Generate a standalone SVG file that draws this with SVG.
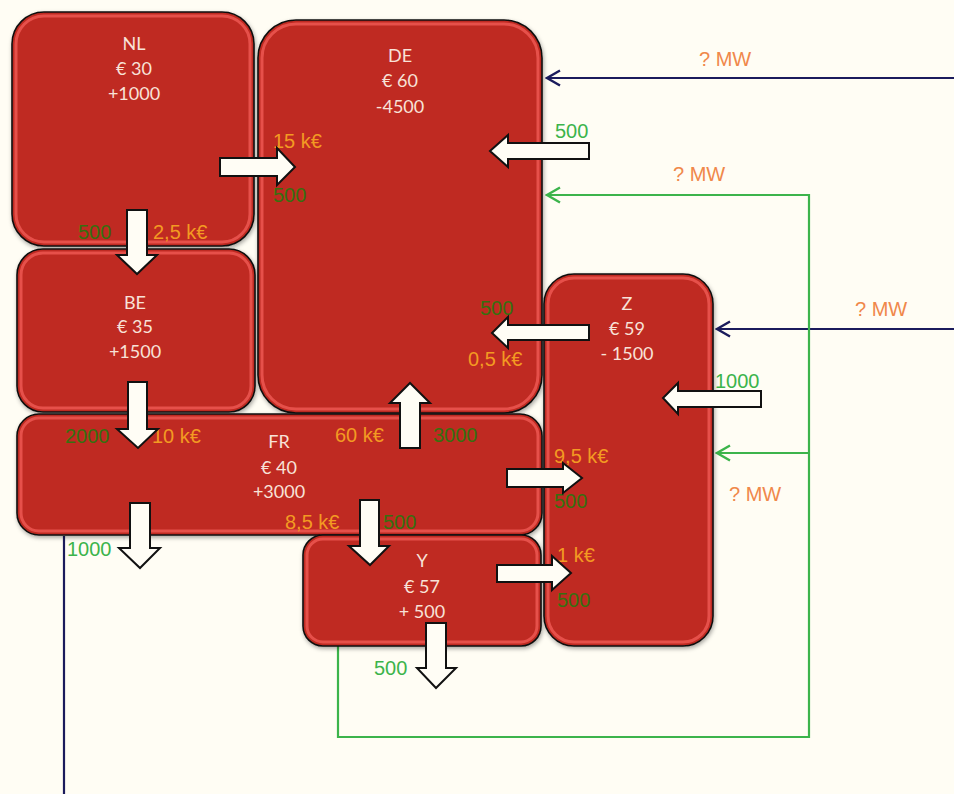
<svg xmlns="http://www.w3.org/2000/svg" width="954" height="794" viewBox="0 0 954 794">
<defs>
<filter id="sh" x="-10%" y="-10%" width="120%" height="120%">
<feDropShadow dx="1" dy="2" stdDeviation="2" flood-color="#000" flood-opacity="0.35"/>
</filter>
<marker id="an" markerWidth="18" markerHeight="18" refX="16" refY="9" orient="auto" markerUnits="userSpaceOnUse">
<path d="M3,1.5 L16,9 L3,16.5" fill="none" stroke="#1b1b5c" stroke-width="2.4"/>
</marker>
<marker id="ag" markerWidth="18" markerHeight="18" refX="16" refY="9" orient="auto" markerUnits="userSpaceOnUse">
<path d="M3,1.5 L16,9 L3,16.5" fill="none" stroke="#3cb44b" stroke-width="2.4"/>
</marker>
</defs>
<style>
.box{fill:#bf2a20;stroke:#111;stroke-width:1.6;filter:url(#sh)}
.hl{fill:none;stroke:#f05a55;stroke-width:3;opacity:0.8}
.nt{font-family:Lato,"Open Sans",sans-serif;font-size:18px;fill:#f8e2d8;text-anchor:middle}
.lb{font-family:"Liberation Sans",Arial,sans-serif;font-size:20px}
.or{fill:#f39a22}
.dg{fill:#36700f}
.lg{fill:#3cb44b}
.mw{fill:#f0884a}
.ar{fill:#fffdf5;stroke:#111;stroke-width:2;stroke-linejoin:miter}
.nv{fill:none;stroke:#1b1b5c;stroke-width:2.2}
.gr{fill:none;stroke:#3cb44b;stroke-width:2.2}
</style>
<rect width="954" height="794" fill="#fffdf4"/>

<g id="connectors">
<path class="nv" d="M954,78 H547" marker-end="url(#an)"/>
<path class="nv" d="M954,329 H717" marker-end="url(#an)"/>
<path class="nv" d="M64,536 V794"/>
<path class="gr" d="M338,646 V737 H809 V195 H547" marker-end="url(#ag)"/>
<path class="gr" d="M809,453 H717" marker-end="url(#ag)"/>
</g>

<g id="NL">
<rect class="box" x="12" y="12" width="242" height="234" rx="32"/>
<rect class="hl" x="16" y="16" width="234" height="226" rx="28"/>
<text class="nt" x="134" y="50">NL</text>
<text class="nt" x="134" y="75">€ 30</text>
<text class="nt" x="134" y="100">+1000</text>
</g>
<g id="DE">
<rect class="box" x="258" y="20" width="284" height="393" rx="38"/>
<rect class="hl" x="262" y="24" width="276" height="385" rx="34"/>
<text class="nt" x="400" y="62">DE</text>
<text class="nt" x="400" y="87">€ 60</text>
<text class="nt" x="400" y="113">-4500</text>
</g>
<g id="BE">
<rect class="box" x="17" y="249" width="238" height="163" rx="26"/>
<rect class="hl" x="21" y="253" width="230" height="155" rx="22"/>
<text class="nt" x="135" y="309">BE</text>
<text class="nt" x="135" y="333">€ 35</text>
<text class="nt" x="135" y="358">+1500</text>
</g>
<g id="FR">
<rect class="box" x="17" y="414" width="525" height="121" rx="22"/>
<rect class="hl" x="21" y="418" width="517" height="113" rx="18"/>
<text class="nt" x="279" y="448">FR</text>
<text class="nt" x="279" y="474">€ 40</text>
<text class="nt" x="279" y="498">+3000</text>
</g>
<g id="Z">
<rect class="box" x="544" y="274" width="169" height="372" rx="30"/>
<rect class="hl" x="548" y="278" width="161" height="364" rx="26"/>
<text class="nt" x="627" y="310">Z</text>
<text class="nt" x="627" y="335">€ 59</text>
<text class="nt" x="627" y="360">- 1500</text>
</g>
<g id="Y">
<rect class="box" x="303" y="535" width="238" height="111" rx="20"/>
<rect class="hl" x="307" y="539" width="230" height="103" rx="16"/>
<text class="nt" x="422" y="567">Y</text>
<text class="nt" x="422" y="593">€ 57</text>
<text class="nt" x="422" y="618">+ 500</text>
</g>

<g id="labels">
<text class="lb mw" x="699" y="66">? MW</text>
<text class="lb mw" x="673" y="181">? MW</text>
<text class="lb mw" x="855" y="316">? MW</text>
<text class="lb mw" x="729" y="501">? MW</text>
<text class="lb dg" x="78" y="239">500</text>
<text class="lb or" x="153" y="239">2,5 k€</text>
<text class="lb or" x="273" y="148">15 k€</text>
<text class="lb dg" x="273" y="202">500</text>
<text class="lb lg" x="555" y="138">500</text>
<text class="lb dg" x="480" y="315">500</text>
<text class="lb or" x="468" y="366">0,5 k€</text>
<text class="lb dg" x="65" y="443">2000</text>
<text class="lb or" x="152" y="443">10 k€</text>
<text class="lb or" x="335" y="442">60 k€</text>
<text class="lb dg" x="433" y="442">3000</text>
<text class="lb or" x="285" y="529">8,5 k€</text>
<text class="lb dg" x="383" y="529">500</text>
<text class="lb lg" x="67" y="556">1000</text>
<text class="lb lg" x="715" y="388">1000</text>
<text class="lb or" x="554" y="463">9,5 k€</text>
<text class="lb dg" x="554" y="508">500</text>
<text class="lb or" x="557" y="562">1 k€</text>
<text class="lb dg" x="557" y="607">500</text>
<text class="lb lg" x="374" y="675">500</text>
</g>

<g id="flows">
<polygon class="ar" points="220,158 277,158 277,148 295,167 277,185 277,176 220,176"/>
<polygon class="ar" points="127,210 147,210 147,255 157,255 137,274 117,255 127,255"/>
<polygon class="ar" points="589,143 508,143 508,135 490,151 508,167 508,159 589,159"/>
<polygon class="ar" points="589,325 508,325 508,317 492,333 508,348 508,340 589,340"/>
<polygon class="ar" points="400,448 400,403 390,403 410,383 430,403 420,403 420,448"/>
<polygon class="ar" points="128,382 147,382 147,429 158,429 138,448 117,429 128,429"/>
<polygon class="ar" points="507,469 563,469 563,463 582,478 563,493 563,487 507,487"/>
<polygon class="ar" points="130,503 150,503 150,548 160,548 140,568 119,548 130,548"/>
<polygon class="ar" points="360,500 379,500 379,546 389,546 370,565 349,546 360,546"/>
<polygon class="ar" points="497,565 552,565 552,556 571,573 552,590 552,582 497,582"/>
<polygon class="ar" points="426,623 446,623 446,668 456,668 436,688 417,668 426,668"/>
<polygon class="ar" points="761,391 678,391 678,383 663,398 678,414 678,407 761,407"/>
</g>
</svg>
